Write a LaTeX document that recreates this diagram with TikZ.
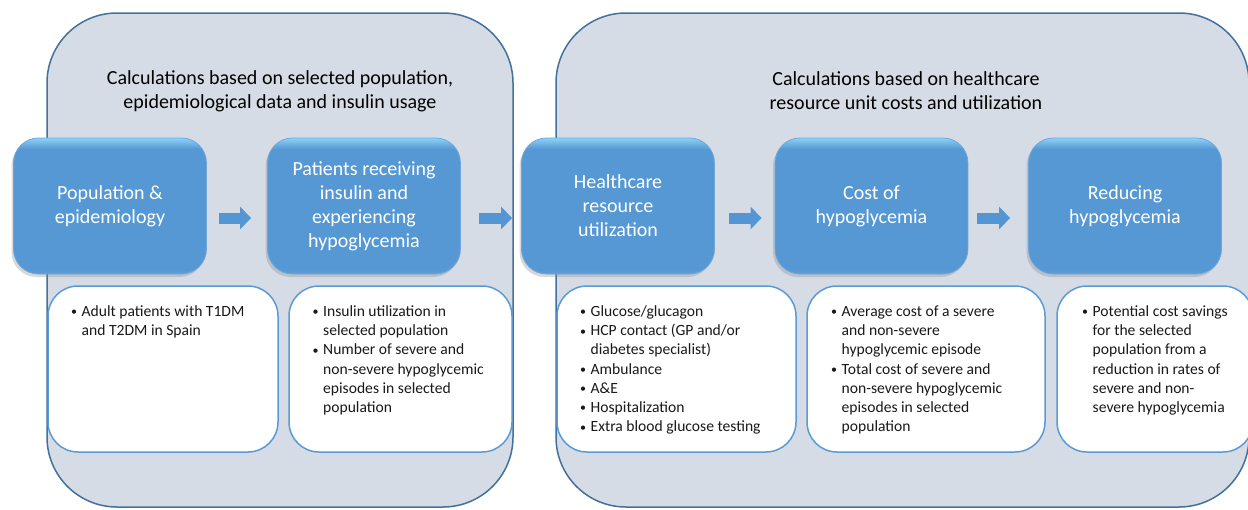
\documentclass[tikz,border=0pt]{standalone}
\usepackage{fontspec}
\setmainfont{Carlito}
\usetikzlibrary{shadows,arrows.meta}
\definecolor{panelfill}{RGB}{214,220,229}
\definecolor{paneldraw}{RGB}{65,113,156}
\definecolor{boxblue}{RGB}{86,152,212}
\definecolor{boxtop}{RGB}{140,210,248}
\definecolor{boxbot}{RGB}{96,160,216}
\definecolor{wborder}{RGB}{91,155,213}
\definecolor{arrowblue}{RGB}{84,150,212}
\pgfdeclareverticalshading{boxshade}{100bp}{color(0bp)=(boxbot); color(25bp)=(boxbot); color(26.5bp)=(boxblue); color(71bp)=(boxblue); color(75bp)=(boxtop); color(100bp)=(boxtop)}
\newcommand{\bu}{\makebox[7.5pt][l]{\raisebox{0.6pt}{\fontsize{12}{12}\selectfont\textbullet}}}
\begin{document}
\begin{tikzpicture}[x=1pt,y=-1pt,
 panel/.style={draw=paneldraw, line width=1.5pt, fill=panelfill, rounded corners=70pt, inner sep=0pt},
 heading/.style={align=center, font=\fontsize{20}{24}\selectfont, text=black},
 bluebox/.style={rectangle, rounded corners=25pt, minimum width=193pt, minimum height=136pt,
   shade, shading=boxshade, shading angle=0, draw=boxblue!85!white, line width=0.8pt,
   text=white, align=center, font=\fontsize{20}{24}\selectfont,
   drop shadow={shadow xshift=-2pt, shadow yshift=-3pt, opacity=0.3}},
 infobox/.style={rectangle, rounded corners=30pt, minimum height=166pt, fill=white, draw=wborder, line width=1.5pt, inner sep=0pt},
 bullets/.style={anchor=base west, inner sep=0pt, font=\fontsize{15.6}{19.2}\selectfont, text=black!90},
 flow/.style={draw=arrowblue, line width=11pt, -{Triangle[width=22pt,length=11pt]}}
]
\useasboundingbox (0,0) rectangle (1248,509);
\fill[white] (0,0) rectangle (1248,509);

% panels
\node[panel, minimum width=466pt, minimum height=494pt] (leftpanel) at (280,260) {};
\node[panel, minimum width=693pt, minimum height=494pt] (rightpanel) at (902.5,260) {};

\node[heading] (lefthead) at (280,91) {Calculations based on selected population,\\epidemiological data and insulin usage};
\node[heading] (righthead) at (906,91) {Calculations based on healthcare\\resource unit costs and utilization};

% info boxes
\node[infobox, minimum width=230pt] (infoA) at (163,369) {};
\node[infobox, minimum width=223pt] (infoB) at (400.5,369) {};
\node[infobox, minimum width=239pt] (infoC) at (676.5,369) {};
\node[infobox, minimum width=238pt] (infoD) at (926,369) {};
\node[infobox, minimum width=196pt] (infoE) at (1155,369) {};

% blue boxes
\node[bluebox] (pop) at (110,206) {Population \&\\epidemiology};
\node[bluebox] (pat) at (364,206) {Patients receiving\\insulin and\\experiencing\\hypoglycemia};
\node[bluebox] (hcr) at (618,206) {Healthcare\\resource\\utilization};
\node[bluebox] (cost) at (871.5,206) {Cost of\\hypoglycemia};
\node[bluebox] (red) at (1125,206) {Reducing\\hypoglycemia};

% arrows
\draw[flow, shorten <=12pt, shorten >=16pt] ([yshift=-12pt]pop.east) -- ([yshift=-12pt]pat.west);
\draw[flow, shorten <=18pt, shorten >=9pt] ([yshift=-12pt]pat.east) -- ([yshift=-12pt]hcr.west);
\draw[flow, shorten <=14pt, shorten >=13pt] ([yshift=-12pt]hcr.east) -- ([yshift=-12pt]cost.west);
\draw[flow, shorten <=9pt, shorten >=18pt] ([yshift=-12pt]cost.east) -- ([yshift=-12pt]red.west);

% bullet texts
\node[bullets] (txtA) at (71,316.5) {\begin{tabular}[t]{@{}l@{\hspace{3pt}}l@{}}
\bu & Adult patients with T1DM\\
 & and T2DM in Spain\end{tabular}};
\node[bullets] (txtB) at (312.5,316.5) {\begin{tabular}[t]{@{}l@{\hspace{3pt}}l@{}}
\bu & Insulin utilization in\\
 & selected population\\
\bu & Number of severe and\\
 & non-severe hypoglycemic\\
 & episodes in selected\\
 & population\end{tabular}};
\node[bullets] (txtC) at (580,316.5) {\begin{tabular}[t]{@{}l@{\hspace{3pt}}l@{}}
\bu & Glucose/glucagon\\
\bu & HCP contact (GP and/or\\
 & diabetes specialist)\\
\bu & Ambulance\\
\bu & A\&E\\
\bu & Hospitalization\\
\bu & Extra blood glucose testing\end{tabular}};
\node[bullets] (txtD) at (831,316.5) {\begin{tabular}[t]{@{}l@{\hspace{3pt}}l@{}}
\bu & Average cost of a severe\\
 & and non-severe\\
 & hypoglycemic episode\\
\bu & Total cost of severe and\\
 & non-severe hypoglycemic\\
 & episodes in selected\\
 & population\end{tabular}};
\node[bullets] (txtE) at (1082,316.5) {\begin{tabular}[t]{@{}l@{\hspace{3pt}}l@{}}
\bu & Potential cost savings\\
 & for the selected\\
 & population from a\\
 & reduction in rates of\\
 & severe and non-\\
 & severe hypoglycemia\end{tabular}};
\end{tikzpicture}
\end{document}
